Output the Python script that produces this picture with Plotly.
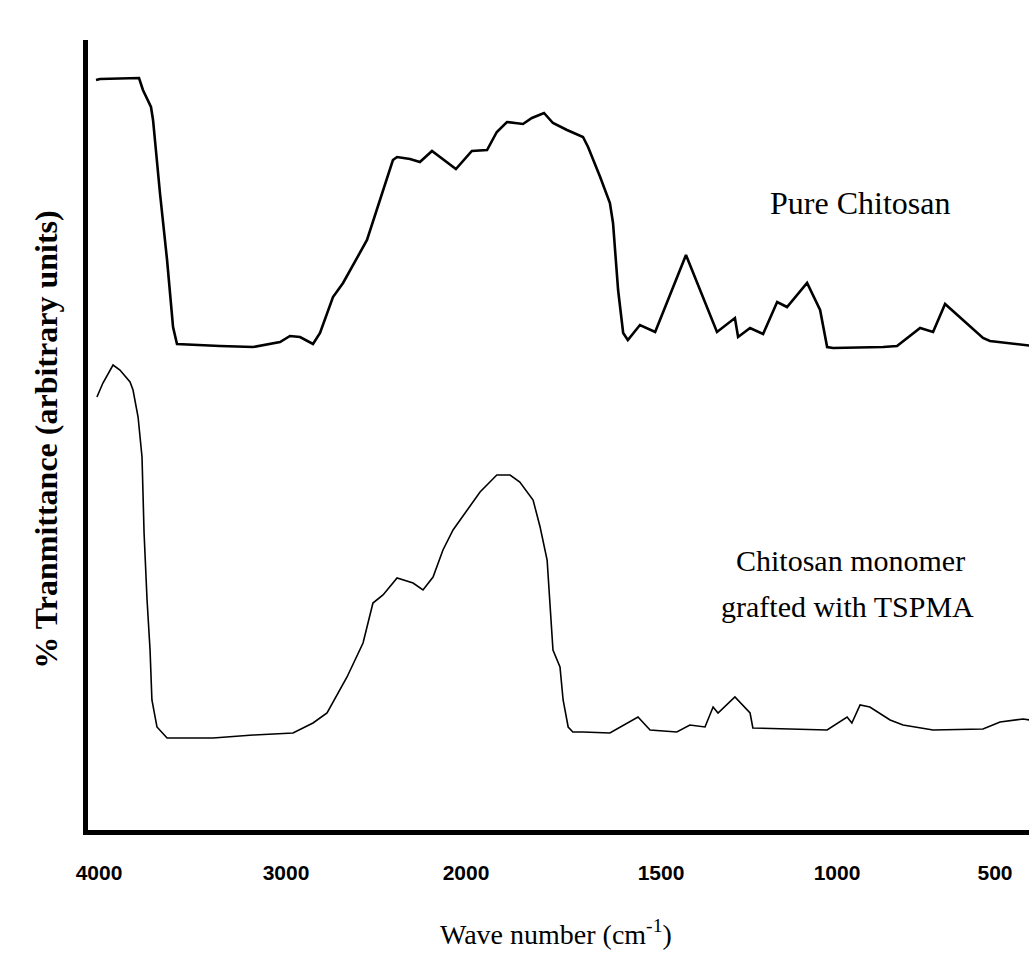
import numpy as np
import plotly.graph_objects as go

# ---- axis tick labels (wavenumber, cm^-1) and their positions on the drawn axis
TICK_WN = [4000, 3000, 2000, 1500, 1000, 500]
TICK_POS = [99, 286, 466, 661, 837, 995]   # piecewise (non-linear) FTIR scale

# ---- Pure Chitosan spectrum
pure_wn = [4016, 3995, 3786, 3765, 3722, 3711, 3674, 3636, 3604, 3583, 3353, 3176, 3032,
           2978, 2922, 2850, 2811, 2739, 2683, 2550, 2406, 2383, 2311, 2256, 2189, 2056,
           1985, 1946, 1921, 1895, 1874, 1854, 1831, 1800, 1777, 1741, 1700, 1687, 1656,
           1631, 1623, 1610, 1597, 1585, 1554, 1515, 1429, 1341, 1290, 1281, 1247, 1210,
           1170, 1142, 1085, 1048, 1028, 1011, 854, 810, 737, 696, 658, 538, 516, 380]
pure_T = [752, 753, 754, 742, 725, 712, 639, 572, 505, 488, 486, 485, 490,
          496, 495, 488, 499, 535, 549, 592, 672, 675, 673, 670, 681, 663,
          681, 682, 700, 710, 709, 708, 714, 719, 709, 702, 695, 685, 655,
          629, 609, 542, 499, 492, 507, 500, 577, 500, 514, 495, 504, 498,
          530, 525, 549, 522, 485, 484, 485, 486, 504, 500, 528, 494, 491, 486]

# ---- Chitosan monomer grafted with TSPMA spectrum
graft_wn = [4011, 3979, 3925, 3888, 3834, 3818, 3791, 3770, 3759, 3743, 3727, 3717, 3690,
            3636, 3390, 3176, 2961, 2850, 2772, 2661, 2572, 2517, 2461, 2383, 2294, 2239,
            2183, 2128, 2072, 1997, 1964, 1921, 1887, 1862, 1828, 1810, 1792, 1777, 1759,
            1751, 1738, 1726, 1700, 1631, 1580, 1559, 1528, 1455, 1418, 1375, 1352, 1338,
            1290, 1247, 1239, 1153, 1028, 968, 953, 927, 896, 832, 791, 696, 538, 484, 411, 389]
graft_T = [435, 449, 467, 462, 450, 442, 415, 375, 299, 232, 182, 132, 105,
           94, 94, 97, 99, 109, 119, 155, 189, 229, 237, 254, 249, 242,
           255, 282, 302, 322, 340, 357, 357, 350, 332, 305, 272, 182, 165,
           132, 105, 100, 100, 99, 110, 115, 102, 100, 107, 105, 125, 119,
           135, 119, 104, 103, 102, 115, 109, 127, 125, 112, 107, 102, 103, 110, 113, 112]

# piecewise axis scale (with linear extension beyond the end ticks)
scale_wn = [4100] + TICK_WN + [300]
scale_pos = [TICK_POS[0] - 100 * (TICK_POS[1] - TICK_POS[0]) / 1000] + TICK_POS + \
            [TICK_POS[-1] + 200 * (TICK_POS[-1] - TICK_POS[-2]) / 500]


def to_axis(wn):
    return np.interp(-np.asarray(wn, float), -np.asarray(scale_wn, float), scale_pos)


fig = go.Figure()
fig.add_trace(go.Scatter(x=to_axis(pure_wn), y=pure_T, mode="lines",
                         line=dict(color="black", width=2.6), name="Pure Chitosan"))
fig.add_trace(go.Scatter(x=to_axis(graft_wn), y=graft_T, mode="lines",
                         line=dict(color="black", width=1.6),
                         name="Chitosan monomer grafted with TSPMA"))

serif = "Liberation Serif, Times New Roman, serif"

fig.add_annotation(x=860, y=629, xref="x", yref="y", text="Pure Chitosan", showarrow=False,
                   font=dict(family=serif, size=32, color="black"))
fig.add_annotation(x=850, y=272, xref="x", yref="y", text="Chitosan monomer", showarrow=False,
                   font=dict(family=serif, size=30, color="black"))
fig.add_annotation(x=847, y=226, xref="x", yref="y", text="grafted with TSPMA", showarrow=False,
                   font=dict(family=serif, size=30, color="black"))

fig.add_annotation(x=0.497, y=-0.154, xref="paper", yref="paper",
                   text="Wave number (cm<sup>-1</sup>)", showarrow=False,
                   font=dict(family=serif, size=28, color="black"))
fig.add_annotation(x=-0.066, y=0.494, xref="paper", yref="paper", textangle=-90,
                   text="<b>% Tranmittance (arbitrary units)</b>", showarrow=False,
                   font=dict(family=serif, size=32, color="black"))

fig.update_layout(
    width=1035, height=963,
    margin=dict(l=88, r=6, t=40, b=133),
    plot_bgcolor="white", paper_bgcolor="white",
    showlegend=False,
    xaxis=dict(range=[88, 1029], tickvals=TICK_POS, ticktext=[str(v) for v in TICK_WN],
               showgrid=False, zeroline=False, ticks="", showline=True, linecolor="black",
               linewidth=5, ticklabelstandoff=20,
               tickfont=dict(family="Liberation Sans, Arial, sans-serif", size=21,
                             color="black", weight="bold")),
    yaxis=dict(range=[2, 792], showgrid=False, zeroline=False, ticks="",
               showticklabels=False, showline=True, linecolor="black", linewidth=5),
)

fig.write_html("out.html")
